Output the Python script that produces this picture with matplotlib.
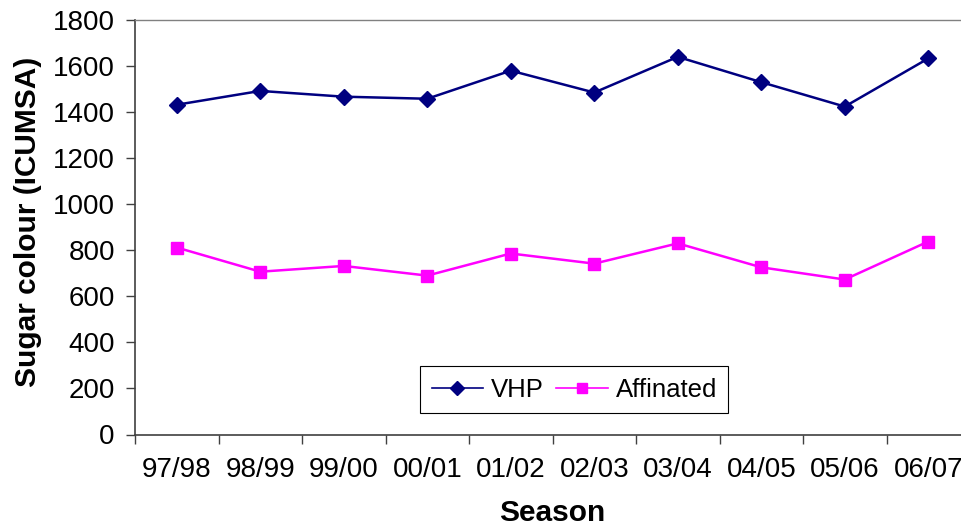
import matplotlib
matplotlib.use("Agg")
import matplotlib.pyplot as plt
from matplotlib.lines import Line2D

seasons = ["97/98", "98/99", "99/00", "00/01", "01/02", "02/03", "03/04", "04/05", "05/06", "06/07"]
vhp = [1432, 1492, 1467, 1458, 1580, 1485, 1640, 1530, 1424, 1633]
affinated = [812, 707, 732, 690, 786, 742, 830, 726, 673, 838]
y_ticks = [0, 200, 400, 600, 800, 1000, 1200, 1400, 1600, 1800]

plt.rcParams['font.family'] = ['Liberation Sans', 'DejaVu Sans']

fig = plt.figure(figsize=(9.61, 5.27), dpi=100)
ax = fig.add_axes([135/961, 1 - 434.5/527, 835/961, (434.5 - 20)/527])

x = list(range(len(seasons)))
ax.plot(x, vhp, color='#000080', lw=1.8, marker='D', ms=8, mfc='#000080', mec='#000080', label='VHP')
ax.plot(x, affinated, color='#FF00FF', lw=1.8, marker='s', ms=8.5, mfc='#FF00FF', mec='#FF00FF', label='Affinated')

ax.set_xlim(-0.5, len(seasons) - 0.5)
ax.set_ylim(0, 1800)
ax.set_yticks(y_ticks)
ax.set_yticklabels([str(v) for v in y_ticks], fontsize=20)

ax.set_xticks([i - 0.5 for i in range(len(seasons) + 1)])
ax.set_xticklabels([])
ax.set_xticks(x, minor=True)
ax.set_xticklabels(seasons, minor=True, fontsize=20)
ax.tick_params(axis='x', which='major', length=6.5, width=1, color='#404040', direction='out')
ax.tick_params(axis='x', which='minor', length=0, pad=16)
ax.tick_params(axis='y', length=6.5, width=1, color='#404040', direction='out', pad=8)

for s in ['left', 'bottom']:
    ax.spines[s].set_color('#404040')
    ax.spines[s].set_linewidth(1.2)
ax.spines['top'].set_color('#808080')
ax.spines['top'].set_linewidth(1)
ax.spines['right'].set_visible(False)

ax.set_ylabel('Sugar colour (ICUMSA)', fontsize=21.5, fontweight='bold', va='center')
ax.yaxis.set_label_coords((28 - 135) / 835, (434.5 - 221.5) / 414.5)
ax.set_xlabel('Season', fontsize=21.5, fontweight='bold', va='center')
ax.xaxis.set_label_coords(0.5, (434.5 - 513) / 414.5)

handles = [Line2D([0], [0], color='#000080', lw=1.2, marker='D', ms=7),
           Line2D([0], [0], color='#FF00FF', lw=1.2, marker='s', ms=7.5)]
leg = ax.legend(handles, ['VHP', 'Affinated'], ncol=2, fontsize=18.5, loc='lower left',
                bbox_to_anchor=((420 - 135) / 835, (434.5 - 413.3) / 414.5),
                frameon=True, fancybox=False, edgecolor='black', framealpha=1,
                borderpad=0.45, handlelength=2.0, handletextpad=0.3, columnspacing=0.5,
                borderaxespad=0)
leg.get_frame().set_linewidth(0.8)

fig.savefig('out.png', dpi=100)
